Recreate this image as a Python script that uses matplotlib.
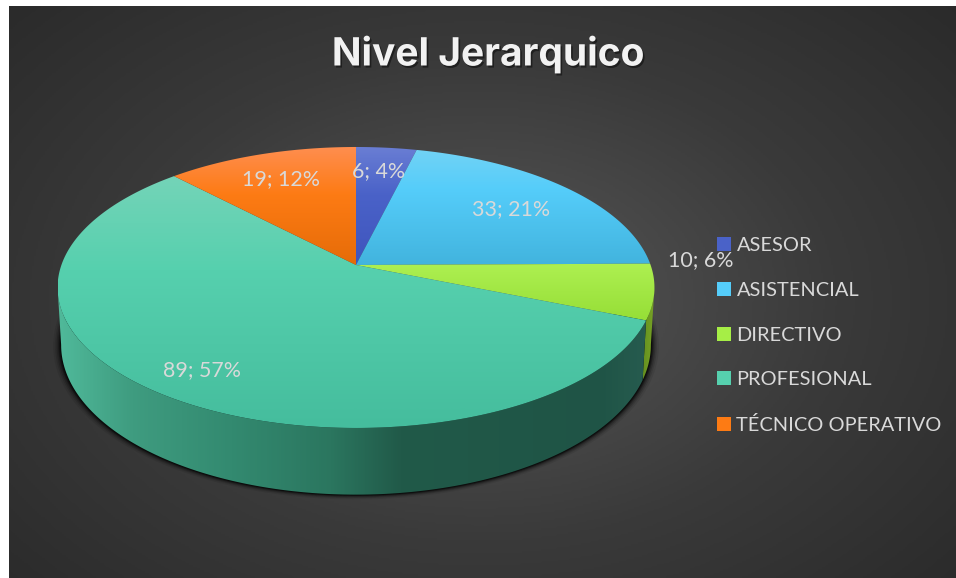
import numpy as np
import matplotlib
matplotlib.use("Agg")
import matplotlib.pyplot as plt
from matplotlib.patches import PathPatch, Patch
from matplotlib.path import Path
from matplotlib.colors import LinearSegmentedColormap
import matplotlib.patheffects as pe

plt.rcParams['font.family'] = ['Lato', 'DejaVu Sans']

categories = ["ASESOR", "ASISTENCIAL", "DIRECTIVO", "PROFESIONAL", "TÉCNICO OPERATIVO"]
values = [6, 33, 10, 89, 19]
percents = [4, 21, 6, 57, 12]
title = "Nivel Jerarquico"

legend_colors = ["#4a62c8", "#55cdfa", "#a6ee46", "#56d0ae", "#fd7b14"]
top_stops = [
    [(147, "#6a7ed4"), (195, "#4a62c8"), (265, "#3f55bd")],
    [(147, "#74d3f5"), (190, "#55cdfa"), (265, "#42b4de")],
    [(262, "#aef052"), (322, "#96de36")],
    [(176, "#74d4b8"), (270, "#56d0ae"), (428, "#45bd9d")],
    [(147, "#ff8e50"), (195, "#fd7b14"), (265, "#e66c08")],
]
side_stops = {
    3: [(60, "#4fb899"), (130, "#3f9c80"), (230, "#338a70"), (330, "#2b765f"),
        (400, "#215a49"), (600, "#1f5446"), (650, "#275c50")],
    2: [(630, "#4f7a1a"), (655, "#7aa626")],
}
label_xy = [(379, 171), (511, 209), (701, 260), (202, 370), (281, 179)]

W, H = 956, 578
CX, CY, A, B, K, DEPTH, SHRINK = 356, 265, 294.6, 136.9, 0.16, 56, 0.012
FRONT = (189.2, 350.8)


def project(theta_deg, z=0.0):
    t = np.radians(theta_deg)
    X, Y = np.cos(t), np.sin(t)
    d = 1 + K * Y
    return CX + A * X / d * (1 - SHRINK * z), CY + (-B * Y + DEPTH * z) / d


def gradient_fill(ax, verts, stops, axis, zorder):
    verts = np.asarray(verts)
    cm = LinearSegmentedColormap.from_list("g", [c for _, c in stops], N=256)
    pos = np.array([p for p, _ in stops], float)
    lo, hi = verts[:, axis].min(), verts[:, axis].max()
    samples = np.linspace(lo, hi, 300)
    frac = np.interp(samples, pos, np.linspace(0, 1, len(pos)))
    img = frac[:, None] if axis == 1 else frac[None, :]
    extent = (verts[:, 0].min(), verts[:, 0].max(), verts[:, 1].max(), verts[:, 1].min())
    im = ax.imshow(img, cmap=cm, vmin=0, vmax=1, extent=extent, aspect="auto",
                   origin="upper", zorder=zorder, interpolation="bilinear")
    patch = PathPatch(Path(np.vstack([verts, verts[0]]), closed=True), transform=ax.transData,
                      facecolor="none", edgecolor="none")
    ax.add_patch(patch)
    im.set_clip_path(patch)


fig = plt.figure(figsize=(W / 100, H / 100), dpi=100, facecolor="white")
ax = fig.add_axes([0, 0, 1, 1])
ax.axis("off")

# slice angles come from the pie layout of the values
wedges, _ = ax.pie(values, startangle=90, counterclock=False, center=(CX, CY), radius=A)
angles = [(w.theta1, w.theta2) for w in wedges]
for w in wedges:
    w.set_visible(False)

# background
yy, xx = np.mgrid[6:578:300j, 9:956:500j]
rr = np.hypot((xx - 480) / 620, (yy - 300) / 420)
bg = LinearSegmentedColormap.from_list("bg", ["#585858", "#3a3a3a", "#272727"])
ax.imshow(rr, cmap=bg, vmin=0, vmax=1.15, extent=(9, 956, 578, 6), aspect="auto", zorder=0)

# soft shadow around the lower rim
th = np.linspace(FRONT[0] - 12, FRONT[1] + 12, 500)
for grow, alpha in zip([8, 6, 4.5, 3, 2, 1], [.08, .12, .18, .26, .34, .45]):
    x, y = project(th, z=1.0)
    x0 = CX + (x - CX) * (1 + grow / 296)
    y0 = y + grow * 0.6 * np.clip(-np.sin(np.radians(th)), 0, 1)
    ax.fill(x0, y0, color="black", alpha=alpha, zorder=1, lw=0)

# side walls, drawn for the front part of the rim only
order = [2, 3]
for i in order:
    t1, t2 = angles[i]
    if t1 < 0:
        t1, t2 = t1 + 360, t2 + 360
    lo, hi = max(t1, FRONT[0]), min(t2, FRONT[1])
    ts = np.linspace(lo, hi, 300)
    x, y = project(ts)
    xb, yb = project(ts, z=1.0)
    verts = np.column_stack([np.r_[x, xb[::-1]], np.r_[y, yb[::-1]]])
    gradient_fill(ax, verts, side_stops[i], 0, 2 + order.index(i))

# top faces
for i, (t1, t2) in enumerate(angles):
    ts = np.linspace(t1, t2, 300)
    x, y = project(ts)
    verts = np.column_stack([np.r_[CX, x], np.r_[CY, y]])
    gradient_fill(ax, verts, top_stops[i], 1, 5)

# legend
handles = [Patch(facecolor=c, edgecolor="none", label=n) for c, n in zip(legend_colors, categories)]
leg = ax.legend(handles=handles, loc="center left", bbox_to_anchor=(717 / W, 1 - 335.5 / H),
                bbox_transform=fig.transFigure, frameon=False, fontsize=14.45, labelcolor="#d9d9d9",
                handlelength=0.7, handleheight=0.7, handletextpad=0.27, labelspacing=1.39,
                borderpad=0, borderaxespad=0)
leg.set_zorder(6)

# data labels
for (px, py), v, p in zip(label_xy, values, percents):
    ax.text(px, py, f"{v}; {p}%", ha="center", va="center", color="#d9d9d9", fontsize=15.4, zorder=7)

# title
ax.text(488, 54, title, ha="center", va="center", color="#f2f2f2", fontsize=28,
        fontweight="bold", family="Inter", zorder=7,
        path_effects=[pe.withSimplePatchShadow(offset=(1.2, -1.5), shadow_rgbFace="black", alpha=0.45)])

ax.set_xlim(0, W)
ax.set_ylim(H, 0)
ax.set_aspect("auto")
fig.savefig("out.png", dpi=100, facecolor="white")
